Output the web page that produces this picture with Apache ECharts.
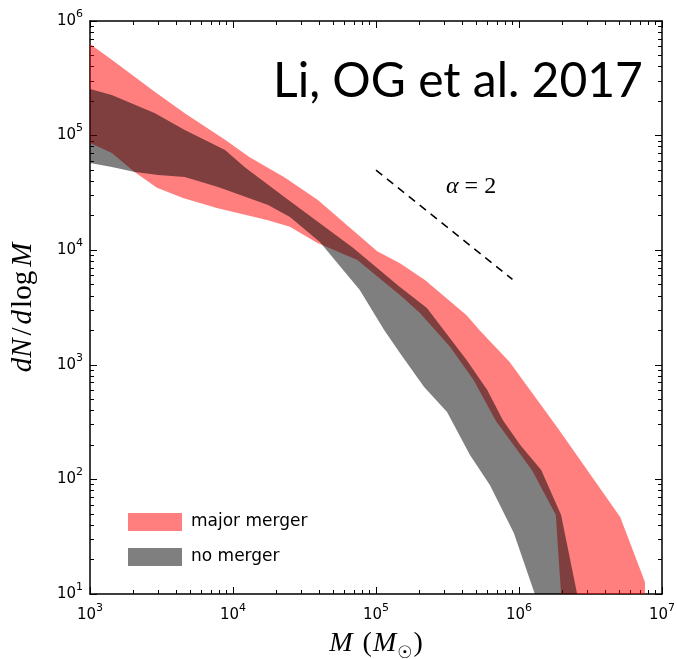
<!DOCTYPE html>
<html>
<head>
<meta charset="utf-8">
<script src="https://cdn.jsdelivr.net/npm/echarts@6/dist/echarts.min.js"></script>
<style>
  html, body { margin: 0; padding: 0; background: #ffffff; }
  #chart { width: 677px; height: 659px; background: #ffffff; }
</style>
</head>
<body>
<div id="chart"></div>
<script>
// Tick values (decades) for the two log axes
const xMajorTicks = [1e3, 1e4, 1e5, 1e6, 1e7];
const yMajorTicks = [1e1, 1e2, 1e3, 1e4, 1e5, 1e6];

// Legend / series names
const seriesNames = ['major merger', 'no merger'];

// Cluster mass function envelopes, [M (Msun), dN/dlogM]
const majorUpper = [
  [1000, 6.3e5], [1420, 4.6e5], [2850, 2.4e5], [4600, 1.57e5], [8800, 9.2e4],
  [1.3e4, 6.5e4], [2.3e4, 4.3e4], [3.9e4, 2.75e4], [1.02e5, 9.8e3], [1.47e5, 7.7e3],
  [2.2e5, 5.5e3], [4.3e5, 2.7e3], [5.3e5, 2.0e3], [8.6e5, 1.06e3], [1.87e6, 280],
  [5.1e6, 47], [7.6e6, 12.7], [7.6e6, 10]
];
const majorLower = [
  [1000, 8.6e4], [1420, 7.05e4], [2060, 4.8e4], [2940, 3.5e4], [4470, 2.85e4],
  [7700, 2.34e4], [1.73e4, 1.83e4], [2.5e4, 1.6e4], [3.87e4, 1.16e4], [7.4e4, 8.2e3],
  [1.47e5, 4.06e3], [2.03e5, 2.83e3], [3.3e5, 1.43e3], [4.8e5, 740], [6.9e5, 323],
  [1.23e6, 121], [1.81e6, 49], [1.87e6, 25.7], [1.97e6, 10]
];
const noneUpper = [
  [1000, 2.55e5], [1420, 2.26e5], [2850, 1.57e5], [4600, 1.12e5], [8800, 7.5e4],
  [1.21e4, 5.3e4], [2.3e4, 2.9e4], [6.9e4, 1.05e4], [1.47e5, 4.77e3], [2.27e5, 3.13e3],
  [4.3e5, 1.1e3], [6.0e5, 603], [7.7e5, 330], [1.02e6, 200], [1.43e6, 121],
  [1.97e6, 49], [2.55e6, 10]
];
const noneLower = [
  [1000, 5.77e4], [1420, 5.32e4], [2060, 4.81e4], [2990, 4.53e4], [4600, 4.35e4],
  [7850, 3.56e4], [1.76e4, 2.48e4], [2.5e4, 1.95e4], [4.05e4, 1.18e4], [7.7e4, 4.49e3],
  [1.14e5, 2.01e3], [1.47e5, 1.27e3], [2.17e5, 640], [3.14e5, 387], [4.54e5, 163],
  [6.27e5, 89], [9.2e5, 34], [1.29e6, 10]
];

// Reference power law with slope alpha = 2 (dN/dlogM ~ M^-1)
const slopeGuide = [[1e5, 5.0e4], [9e5, 5.56e3]];

const RED = 'rgba(255,0,0,0.5)';
const GREY = 'rgba(0,0,0,0.5)';
const SANS = 'DejaVu Sans';
const SERIF = 'Liberation Serif';

function minorTicks(loExp, hiExp) {
  const out = [];
  for (let e = loExp; e < hiExp; e++) {
    for (let k = 2; k <= 9; k++) out.push(k * Math.pow(10, e));
  }
  return out;
}

function bandPolygon(upper, lower) {
  return upper.concat(lower.slice().reverse());
}

function bandRenderer(poly, fill) {
  return function (params, api) {
    if (params.dataIndex !== 0) return null;
    return {
      type: 'polygon',
      shape: { points: poly.map(function (p) { return api.coord(p); }) },
      style: { fill: fill },
      silent: true
    };
  };
}

const powerLabel = function (v) {
  return '{b|10}{s|' + Math.round(Math.log10(v)) + '}';
};
const tickRich = {
  b: { fontFamily: SANS, fontSize: 15, color: '#000' },
  s: { fontFamily: SANS, fontSize: 11, color: '#000', padding: [0, 0, 14, 0] }
};

const axisLine = { show: true, lineStyle: { color: '#000', width: 1.5 } };

function logAxis(kind, position, min, max, ticks, tickLen, withLine, label, extra) {
  const ax = {
    type: 'log', logBase: 10, position: position, min: min, max: max,
    axisLine: withLine ? axisLine : { show: false },
    axisTick: { show: true, inside: true, length: tickLen, customValues: ticks,
                lineStyle: { color: '#000', width: 1 } },
    axisLabel: label ? {
      show: true, customValues: ticks, formatter: powerLabel, rich: tickRich,
      margin: kind === 'x' ? 9 : 7
    } : { show: false },
    splitLine: { show: false },
    minorTick: { show: false },
    minorSplitLine: { show: false }
  };
  return Object.assign(ax, extra || {});
}

const xMinor = minorTicks(3, 7);
const yMinor = minorTicks(1, 6);

const option = {
  backgroundColor: '#ffffff',
  animation: false,
  grid: { left: 90, right: 15, top: 21, bottom: 65, containLabel: false, outerBoundsMode: 'none' },
  xAxis: [
    logAxis('x', 'bottom', 1e3, 1e7, xMajorTicks, 7, true, true, {
      name: '{i|M}{o|(}{i|M}{sub|\u2609}{c|)}',
      nameLocation: 'middle', nameGap: 31,
      nameTextStyle: {
        rich: {
          i: { fontFamily: SERIF, fontStyle: 'italic', fontSize: 28, color: '#000' },
          o: { fontFamily: SERIF, fontSize: 28, color: '#000', padding: [0, 1, 0, 10] },
          c: { fontFamily: SERIF, fontSize: 28, color: '#000', padding: [0, 0, 0, 1] },
          sub: { fontFamily: SANS, fontSize: 17, color: '#000', padding: [20, 0, 0, 1] }
        }
      }
    }),
    logAxis('x', 'bottom', 1e3, 1e7, xMinor, 4, false, false),
    logAxis('x', 'top', 1e3, 1e7, xMajorTicks, 7, true, false),
    logAxis('x', 'top', 1e3, 1e7, xMinor, 4, false, false)
  ],
  yAxis: [
    logAxis('y', 'left', 10, 1e6, yMajorTicks, 7, true, true, {
      name: '{i|dN}{s|/}{i|d}{r|log}{m|M}',
      nameLocation: 'middle', nameGap: 52, nameRotate: 90,
      nameTextStyle: {
        rich: {
          i: { fontFamily: SERIF, fontStyle: 'italic', fontSize: 29, color: '#000' },
          s: { fontFamily: SERIF, fontSize: 29, color: '#000', padding: [0, 3, 0, 3] },
          r: { fontFamily: SERIF, fontSize: 29, color: '#000', padding: [0, 0, 0, 2] },
          m: { fontFamily: SERIF, fontStyle: 'italic', fontSize: 29, color: '#000', padding: [0, 0, 0, 4] }
        }
      }
    }),
    logAxis('y', 'left', 10, 1e6, yMinor, 4, false, false),
    logAxis('y', 'right', 10, 1e6, yMajorTicks, 7, true, false),
    logAxis('y', 'right', 10, 1e6, yMinor, 4, false, false)
  ],
  legend: {
    orient: 'vertical', left: 123, top: 508,
    itemWidth: 54, itemHeight: 18, itemGap: 17,
    icon: 'rect',
    selectedMode: false,
    data: seriesNames,
    textStyle: { fontFamily: SANS, fontSize: 17, color: '#000', padding: [0, 0, 0, 4] }
  },
  series: [
    {
      name: seriesNames[0], type: 'custom', coordinateSystem: 'cartesian2d',
      xAxisIndex: 0, yAxisIndex: 0,
      itemStyle: { color: RED },
      data: bandPolygon(majorUpper, majorLower),
      renderItem: bandRenderer(bandPolygon(majorUpper, majorLower), RED),
      z: 2
    },
    {
      name: seriesNames[1], type: 'custom', coordinateSystem: 'cartesian2d',
      xAxisIndex: 0, yAxisIndex: 0,
      itemStyle: { color: GREY },
      data: bandPolygon(noneUpper, noneLower),
      renderItem: bandRenderer(bandPolygon(noneUpper, noneLower), GREY),
      z: 3
    },
    {
      name: 'slope', type: 'line', xAxisIndex: 0, yAxisIndex: 0,
      data: slopeGuide, symbol: 'none', silent: true,
      lineStyle: { color: '#000', width: 1.5, type: [8, 6] },
      z: 4
    }
  ],
  graphic: [
    {
      type: 'text', left: 273, top: 58, z: 10,
      style: { text: 'Li, OG et al. 2017', fontFamily: 'Lato', fontSize: 48, fill: '#000' }
    },
    {
      type: 'text', left: 446, top: 175, z: 10,
      style: {
        text: '{a|\u03b1}{b| = 2}',
        rich: {
          a: { fontFamily: SERIF, fontStyle: 'italic', fontSize: 24, fill: '#000' },
          b: { fontFamily: SERIF, fontSize: 24, fill: '#000' }
        }
      }
    }
  ]
};

const chart = echarts.init(document.getElementById('chart'), null, { renderer: 'canvas' });
chart.setOption(option);
</script>
</body>
</html>
